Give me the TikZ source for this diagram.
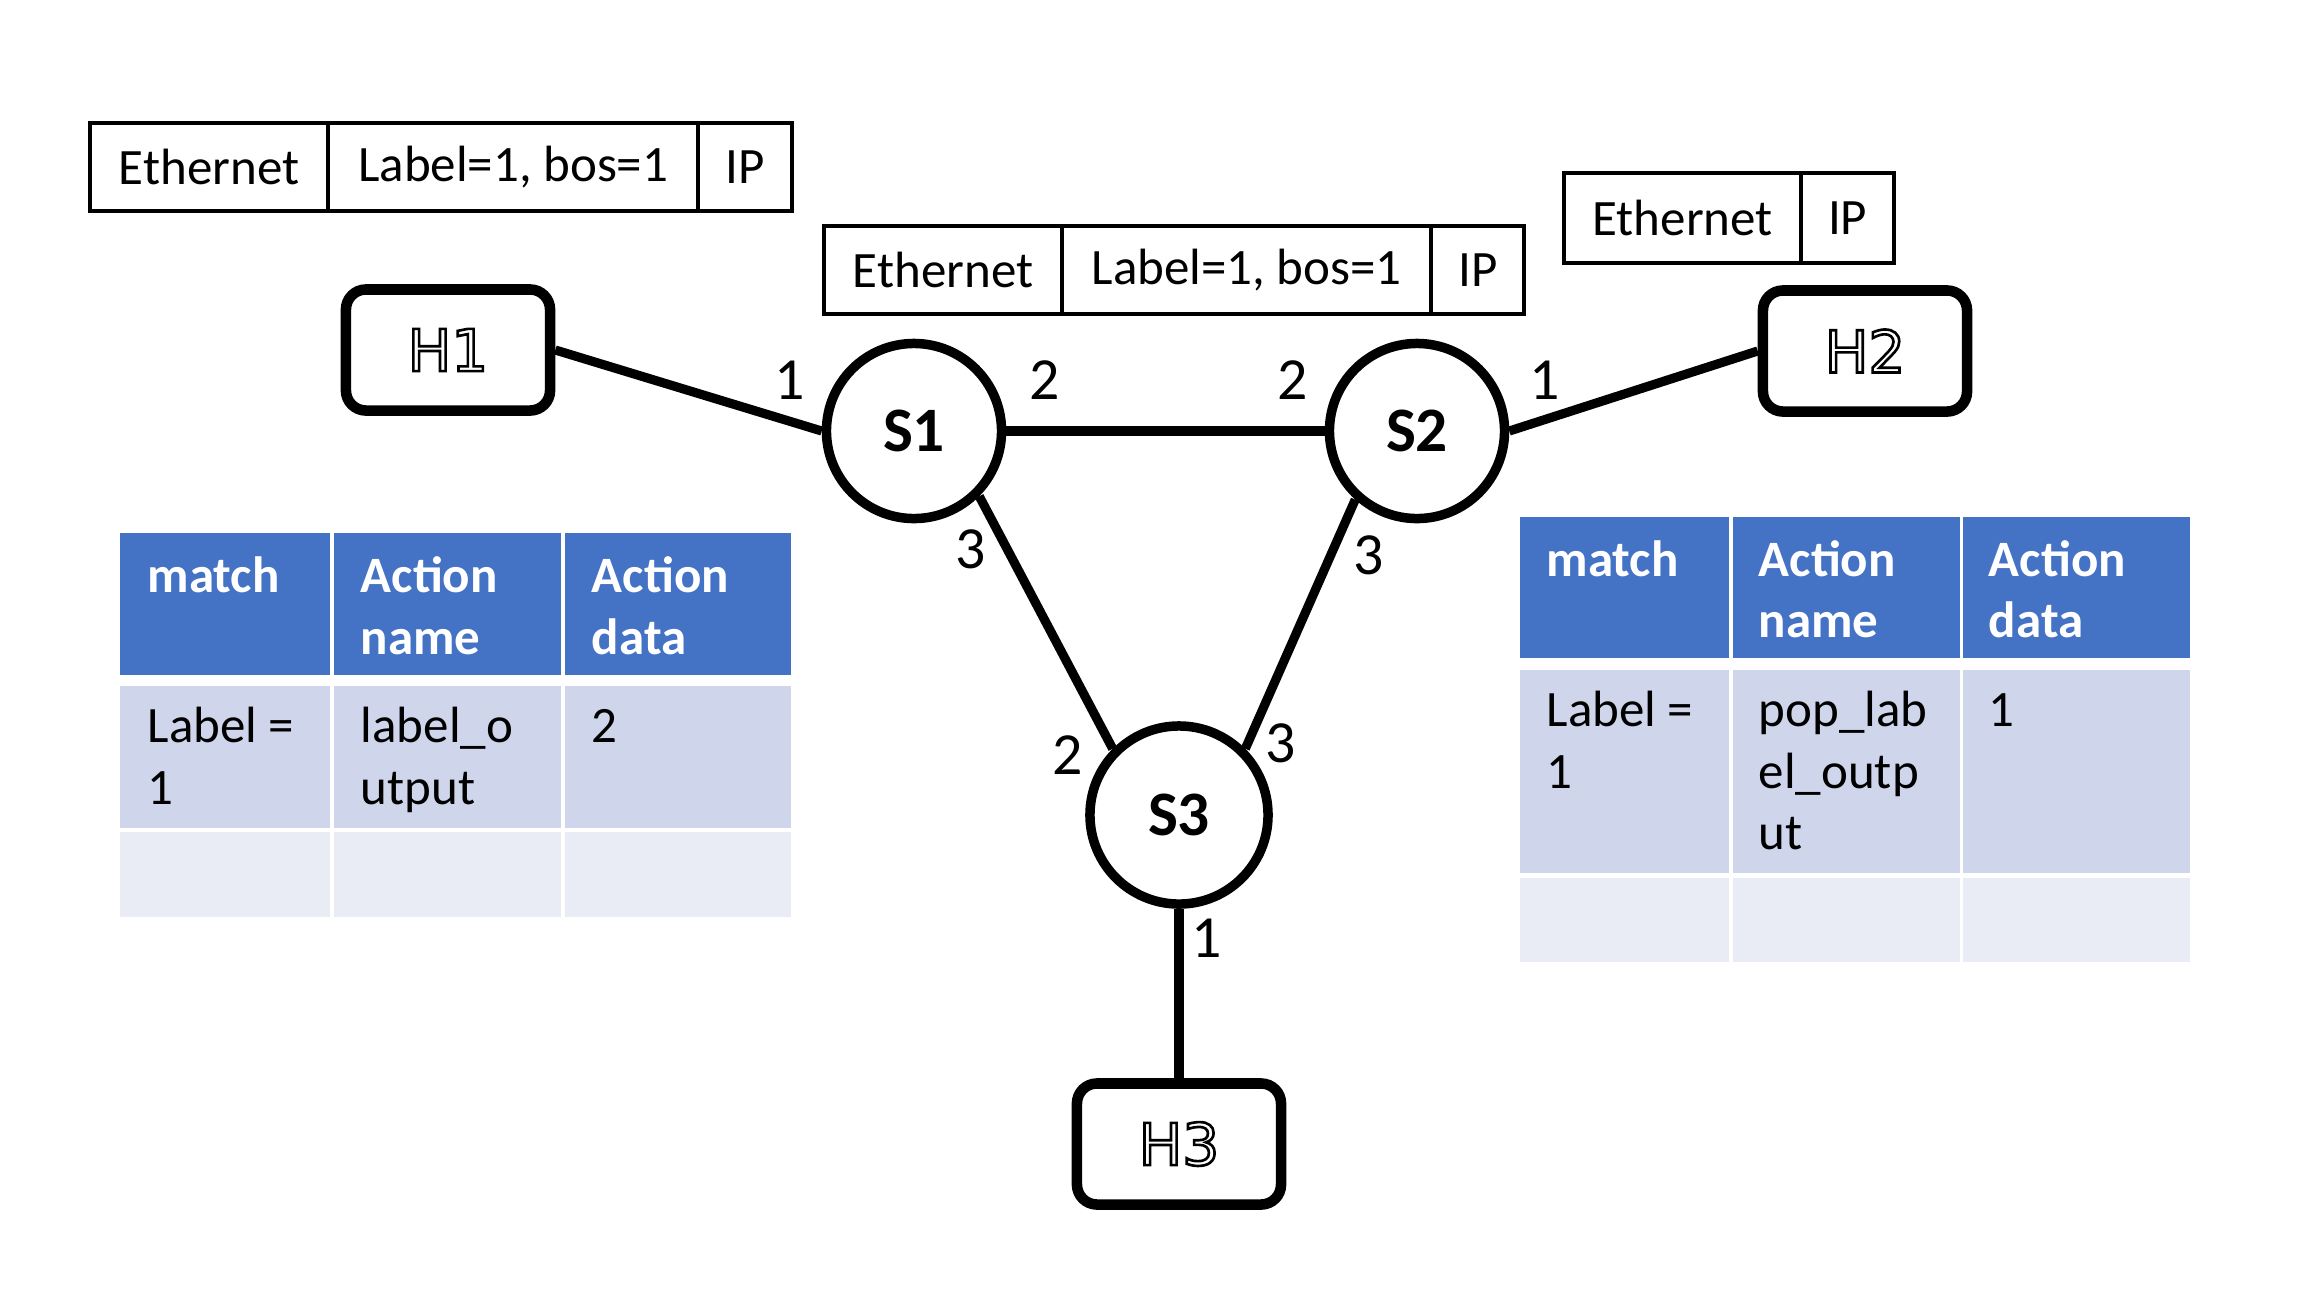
\documentclass[tikz,border=0pt]{standalone}
\usepackage{fontspec}
\setmainfont{Carlito}
\newfontfamily\hostfont{DejaVu Sans}
\usepackage{tikz}
\usetikzlibrary{positioning}
\definecolor{hdrblue}{HTML}{4472C4}
\definecolor{rowdark}{HTML}{CFD5EA}
\definecolor{rowlight}{HTML}{E9EBF5}
\newcommand{\tabfont}{\fontsize{14.5}{17.6}\selectfont}
\newcommand{\hollow}[1]{\special{pdf:literal direct 1 Tr 0.75 w}#1\special{pdf:literal direct 0 Tr}}
\tikzset{
    pkt/.style={rectangle, draw, line width=1.1pt, minimum height=0.88cm, inner sep=0pt, outer sep=0pt, font=\tabfont},
    host/.style={rectangle, draw, line width=3pt, rounded corners=0.2cm, minimum width=2.04cm, minimum height=1.21cm, fill=white, font=\hostfont\fontsize{16.5}{19}\selectfont},
    switch/.style={circle, draw, line width=2.7pt, minimum size=1.75cm, fill=white, font=\bfseries\fontsize{18}{21}\selectfont},
    link/.style={line width=2.6pt},
    port/.style={inner sep=0pt, font=\fontsize{17}{20}\selectfont},
    hdr/.style={rectangle, fill=hdrblue, anchor=north west, inner sep=0pt, outer sep=0pt},
    rowa/.style={rectangle, fill=rowdark, inner sep=0pt, outer sep=0pt},
    rowb/.style={rectangle, fill=rowlight, inner sep=0pt, outer sep=0pt},
    celltxt/.style={anchor=north west, inner sep=0pt, align=left, font=\tabfont},
    hdrtxt/.style={celltxt, text=white, font=\bfseries\tabfont}
}
\begin{document}
\begin{tikzpicture}[x=0.01cm, y=-0.01cm]
\useasboundingbox (0,0) rectangle (2320,1296);

% packet headers
\node (eth1) [pkt, minimum width=2.38cm, anchor=north west] at (90,123) {Ethernet};
\node (lbl1) [pkt, minimum width=3.70cm, right=0pt of eth1] {Label=1, bos=1};
\node (ip1) [pkt, minimum width=0.94cm, right=0pt of lbl1] {IP};

\node (eth2) [pkt, minimum width=2.38cm, anchor=north west] at (824,226) {Ethernet};
\node (lbl2) [pkt, minimum width=3.69cm, right=0pt of eth2] {Label=1, bos=1};
\node (ip2) [pkt, minimum width=0.93cm, right=0pt of lbl2] {IP};

\node (eth3) [pkt, minimum width=2.37cm, minimum height=0.90cm, anchor=north west] at (1564,173) {Ethernet};
\node (ip3) [pkt, minimum width=0.93cm, minimum height=0.90cm, right=0pt of eth3] {IP};

% hosts and switches
\node (h1) [host] at (448,350) {\hollow{H1}};
\node (h2) [host] at (1865,351) {\hollow{H2}};
\node (h3) [host] at (1179,1144) {\hollow{H3}};

\node (s1) [switch] at (914,431) {S1};
\node (s2) [switch] at (1417,431) {S2};
\node (s3) [switch, minimum size=1.78cm] at (1179,815) {S3};

\draw[link] (h1.east) -- (s1.west);
\draw[link] (s1) -- (s2);
\draw[link] (s2.east) -- (h2.west);
\draw[link] (s1.-45) -- (s3.135);
\draw[link] (s2.-132) -- (s3.45);
\draw[link] (s3) -- (h3);

% port numbers
\node (s1p1) [port] at (790,380) {1};
\node (s1p2) [port] at (1045,380) {2};
\node (s1p3) [port] at (971,549) {3};
\node (s2p2) [port] at (1293,380) {2};
\node (s2p1) [port] at (1545,380) {1};
\node (s2p3) [port] at (1369,555) {3};
\node (s3p2) [port] at (1068,755) {2};
\node (s3p3) [port] at (1281,743) {3};
\node (s3p1) [port] at (1207,938) {1};

% table of S1
\node (lhd1) [hdr, minimum width=2.10cm, minimum height=1.42cm] at (120,533) {};
\node (lhd2) [hdr, minimum width=2.27cm, minimum height=1.42cm, right=0.04cm of lhd1] {};
\node (lhd3) [hdr, minimum width=2.26cm, minimum height=1.42cm, right=0.04cm of lhd2] {};
\node (lr11) [rowa, minimum width=2.10cm, minimum height=1.42cm, below=0.11cm of lhd1] {};
\node (lr12) [rowa, minimum width=2.27cm, minimum height=1.42cm, below=0.11cm of lhd2] {};
\node (lr13) [rowa, minimum width=2.26cm, minimum height=1.42cm, below=0.11cm of lhd3] {};
\node (lr21) [rowb, minimum width=2.10cm, minimum height=0.85cm, below=0.04cm of lr11] {};
\node (lr22) [rowb, minimum width=2.27cm, minimum height=0.85cm, below=0.04cm of lr12] {};
\node (lr23) [rowb, minimum width=2.26cm, minimum height=0.85cm, below=0.04cm of lr13] {};

\node (lhd1t) [hdrtxt] at ([xshift=0.27cm, yshift=-0.155cm]lhd1.north west) {\strut match};
\node (lhd2t) [hdrtxt] at ([xshift=0.26cm, yshift=-0.155cm]lhd2.north west) {\strut Action\\name};
\node (lhd3t) [hdrtxt] at ([xshift=0.26cm, yshift=-0.155cm]lhd3.north west) {\strut Action\\data};
\node (lr11t) [celltxt] at ([xshift=0.27cm, yshift=-0.12cm]lr11.north west) {\strut Label =\\1};
\node (lr12t) [celltxt] at ([xshift=0.26cm, yshift=-0.12cm]lr12.north west) {\strut label\_o\\utput};
\node (lr13t) [celltxt] at ([xshift=0.26cm, yshift=-0.12cm]lr13.north west) {\strut 2};

% table of S2
\node (rhd1) [hdr, minimum width=2.09cm, minimum height=1.41cm] at (1520,517) {};
\node (rhd2) [hdr, minimum width=2.27cm, minimum height=1.41cm, right=0.04cm of rhd1] {};
\node (rhd3) [hdr, minimum width=2.27cm, minimum height=1.41cm, right=0.03cm of rhd2] {};
\node (rr11) [rowa, minimum width=2.09cm, minimum height=2.03cm, below=0.12cm of rhd1] {};
\node (rr12) [rowa, minimum width=2.27cm, minimum height=2.03cm, below=0.12cm of rhd2] {};
\node (rr13) [rowa, minimum width=2.27cm, minimum height=2.03cm, below=0.12cm of rhd3] {};
\node (rr21) [rowb, minimum width=2.09cm, minimum height=0.84cm, below=0.05cm of rr11] {};
\node (rr22) [rowb, minimum width=2.27cm, minimum height=0.84cm, below=0.05cm of rr12] {};
\node (rr23) [rowb, minimum width=2.27cm, minimum height=0.84cm, below=0.05cm of rr13] {};

\node (rhd1t) [hdrtxt] at ([xshift=0.26cm, yshift=-0.15cm]rhd1.north west) {\strut match};
\node (rhd2t) [hdrtxt] at ([xshift=0.25cm, yshift=-0.15cm]rhd2.north west) {\strut Action\\name};
\node (rhd3t) [hdrtxt] at ([xshift=0.25cm, yshift=-0.15cm]rhd3.north west) {\strut Action\\data};
\node (rr11t) [celltxt] at ([xshift=0.26cm, yshift=-0.12cm]rr11.north west) {\strut Label =\\1};
\node (rr12t) [celltxt] at ([xshift=0.25cm, yshift=-0.12cm]rr12.north west) {\strut pop\_lab\\el\_outp\\ut};
\node (rr13t) [celltxt] at ([xshift=0.25cm, yshift=-0.12cm]rr13.north west) {\strut 1};
\end{tikzpicture}
\end{document}
